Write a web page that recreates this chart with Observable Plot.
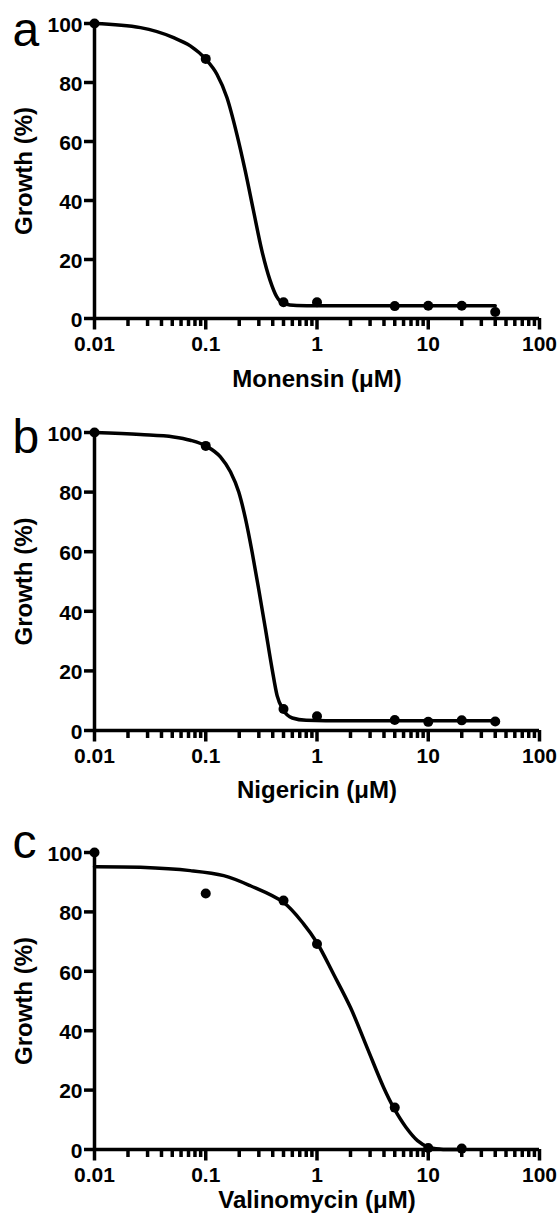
<!DOCTYPE html>
<html>
<head>
<meta charset="utf-8">
<script src="https://cdn.jsdelivr.net/npm/d3@7"></script>
<script src="https://cdn.jsdelivr.net/npm/@observablehq/plot@0.6"></script>
<style>
  html, body { margin: 0; padding: 0; background: #fff; }
  #chart { width: 558px; }
  #chart svg { display: block; }
</style>
</head>
<body>
<div id="chart"></div>
<script>
// ---- data ----
const panelLetters = ["a", "b", "c"];
const xTitles = ["Monensin (μM)", "Nigericin (μM)", "Valinomycin (μM)"];
const yTitle = "Growth (%)";
const xMajorTicks = [0.01, 0.1, 1, 10, 100];
const xTickLabels = ["0.01", "0.1", "1", "10", "100"];
const yTicks = [0, 20, 40, 60, 80, 100];

// measured points
const concA = [0.01, 0.1, 0.5, 1, 5, 10, 20, 40];
const growthA = [100, 88, 5.5, 5.5, 4.2, 4.3, 4.3, 2.2];
const concB = [0.01, 0.1, 0.5, 1, 5, 10, 20, 40];
const growthB = [100, 95.5, 7.2, 4.8, 3.5, 2.9, 3.4, 3.0];
const concC = [0.01, 0.1, 0.5, 1, 5, 10, 20];
const growthC = [100, 86.2, 83.8, 69.2, 14.1, 0.5, 0.3];

// fitted curves
const fitConcA = [0.01, 0.0259, 0.0514, 0.0726, 0.1, 0.126, 0.155, 0.19, 0.226, 0.268, 0.319, 0.378, 0.434, 0.5, 0.658, 1, 40];
const fitGrowthA = [100, 98.6, 95.2, 92.4, 87.9, 82.8, 74.9, 62.6, 50.2, 36.7, 23.1, 13.0, 7.4, 5.1, 4.4, 4.3, 4.3];
const fitConcB = [0.01, 0.0259, 0.0514, 0.0726, 0.1, 0.1355, 0.1667, 0.198, 0.2275, 0.261, 0.299, 0.344, 0.395, 0.438, 0.496, 0.6, 0.8, 1.2, 40];
const fitGrowthB = [100, 99.3, 98.5, 97.4, 95.5, 91.8, 86.8, 80.0, 71.1, 59.9, 47.5, 34.1, 20.6, 11.7, 7.0, 4.2, 3.4, 3.3, 3.3];
const fitConcC = [0.01, 0.0259, 0.0726, 0.145, 0.252, 0.5, 0.76, 1, 1.41, 2.0, 2.82, 3.98, 4.9, 6.3, 8, 10, 13, 20];
const fitGrowthC = [95.2, 95.0, 93.9, 92.2, 88.8, 83.2, 75.9, 69.6, 59.0, 47.8, 34.3, 20.8, 14.0, 7.5, 3.0, 0.8, 0.1, 0];

// ---- layout ----
const layouts = [
  {height: 395, marginTop: 23, marginBottom: 77, letterDy: 22, titleDy: 68.5, curve: "monotone-x"},
  {height: 410, marginTop: 37, marginBottom: 75, letterDy: 20, titleDy: 67.5, curve: "monotone-x"},
  {height: 411, marginTop: 47, marginBottom: 67, letterDy: 5, titleDy: 58, curve: "catmull-rom"}
];
const pointSets = [[concA, growthA], [concB, growthB], [concC, growthC]];
const fitSets = [[fitConcA, fitGrowthA], [fitConcB, fitGrowthB], [fitConcC, fitGrowthC]];

const minorTicks = [];
for (let e = -2; e < 2; e++) for (let m = 2; m <= 9; m++) minorTicks.push(m * Math.pow(10, e));

const FONT = "'Liberation Sans', Arial, Helvetica, sans-serif";
const ink = "#000";
const container = document.getElementById("chart");

panelLetters.forEach((letter, i) => {
  const L = layouts[i];
  const pts = pointSets[i][0].map((c, j) => ({c, g: pointSets[i][1][j]}));
  const fit = fitSets[i][0].map((c, j) => ({c, g: fitSets[i][1][j]}));
  const chart = Plot.plot({
    width: 558,
    height: L.height,
    marginLeft: 94,
    marginRight: 19,
    marginTop: L.marginTop,
    marginBottom: L.marginBottom,
    style: {fontFamily: FONT, fontSize: "21px", fontWeight: "bold", color: ink, background: "#fff", overflow: "visible"},
    x: {type: "log", domain: [0.01, 100]},
    y: {domain: [0, 100]},
    marks: [
      // tick labels
      Plot.axisX({ticks: xMajorTicks, tickSize: 0, tickPadding: 18, tickFormat: (d) => xTickLabels[xMajorTicks.indexOf(d)],
                  fill: ink, fontSize: 21, fontWeight: "bold", label: null}),
      Plot.axisY({ticks: yTicks, tickSize: 0, tickPadding: 12, dy: 1.5, fill: ink,
                  fontSize: 21, fontWeight: "bold", label: null}),
      // tick marks
      Plot.ruleX(minorTicks, {x: (d) => d, y1: 0, y2: 0, insetBottom: -8, stroke: ink, strokeWidth: 3.5}),
      Plot.ruleX(xMajorTicks, {x: (d) => d, y1: 0, y2: 0, insetBottom: -11.5, stroke: ink, strokeWidth: 3.5}),
      Plot.ruleY(yTicks, {y: (d) => d, x1: 0.01, x2: 0.01, insetLeft: -10, stroke: ink, strokeWidth: 3.5}),
      // axis lines
      Plot.ruleY([0], {x1: 0.01, x2: 100, stroke: ink, strokeWidth: 3.5}),
      Plot.ruleX([0.01], {y1: 0, y2: 100, stroke: ink, strokeWidth: 3.5}),
      // data
      Plot.line(fit, {x: "c", y: "g", curve: L.curve, stroke: ink, strokeWidth: 3.5}),
      Plot.dot(pts, {x: "c", y: "g", r: 5, fill: ink, stroke: "none"}),
      // titles
      Plot.text([xTitles[i]], {frameAnchor: "bottom", dy: L.titleDy, lineAnchor: "bottom", textAnchor: "middle",
                 fontSize: 24, fontWeight: "bold", fill: ink}),
      Plot.text([yTitle], {frameAnchor: "left", dx: -70.5, rotate: -90, textAnchor: "middle", lineAnchor: "middle",
                 fontSize: 24, fontWeight: "bold", fill: ink}),
      Plot.text([letter], {frameAnchor: "top-left", dx: -82, dy: L.letterDy, textAnchor: "start", lineAnchor: "bottom",
                 fontSize: 48, fontWeight: "normal", fill: ink})
    ]
  });
  container.appendChild(chart);
});
</script>
</body>
</html>
